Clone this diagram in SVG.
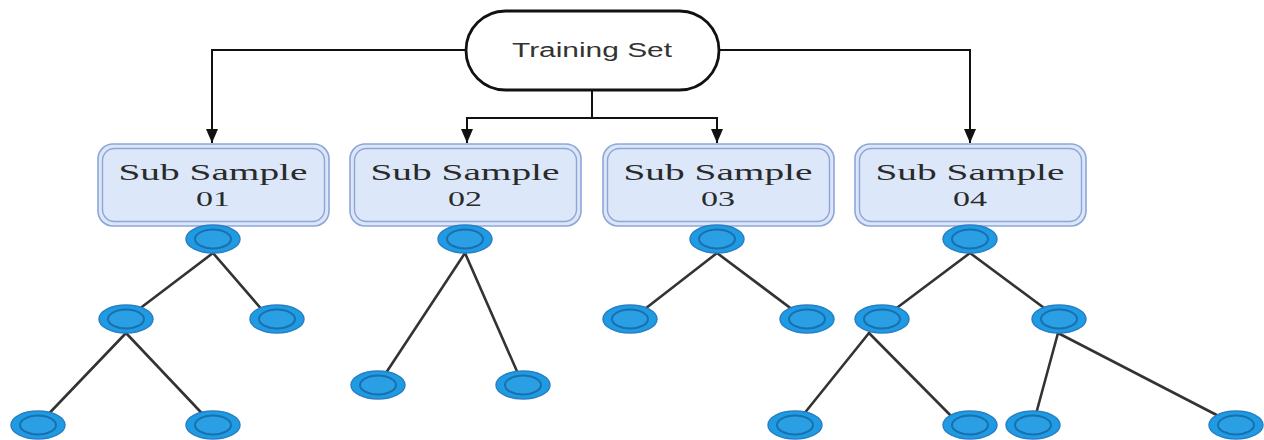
<svg xmlns="http://www.w3.org/2000/svg" width="1264" height="440" viewBox="0 0 1264 440">
  <style>
    .flow { fill: none; stroke: #111; stroke-width: 2; }
    .edge { stroke: #333; stroke-width: 2.6; stroke-linecap: round; }
    .box-outer { fill: #dbe7f8; stroke: #8ea6d6; stroke-width: 1.6; }
    .box-inner { fill: #dce8f9; stroke: #8ea6d6; stroke-width: 1.4; }
    .box-text { font-family: "Liberation Serif", serif; font-size: 24px; fill: #2a2a2a; text-anchor: middle; }
    .box-num { font-family: "Liberation Serif", serif; font-size: 22px; fill: #2a2a2a; text-anchor: middle; }
    .leaf-outer { fill: #1f9be3; stroke: #2a7fc4; stroke-width: 1.5; }
    .leaf-inner { fill: #2a9fe4; stroke: #1a6fae; stroke-width: 2; }
    .root-text { font-family: "Liberation Sans", sans-serif; font-size: 20px; fill: #333; text-anchor: middle; }
  </style>
  <defs>
    <marker id="arrow" viewBox="0 0 14 12" refX="14" refY="6" markerWidth="14" markerHeight="12" markerUnits="userSpaceOnUse" orient="auto">
      <path d="M0,0 L14,6 L0,12 Z" fill="#111"/>
    </marker>
    <g id="leaf">
      <ellipse class="leaf-outer" cx="0" cy="0" rx="27" ry="14"/>
      <ellipse class="leaf-inner" cx="0" cy="0" rx="18" ry="9.5"/>
    </g>
  </defs>
  <rect width="1264" height="440" fill="#fff"/>

  <!-- connectors: training set to sub samples, and tree edges -->
  <g id="connectors">
    <path class="flow" d="M466,50 H212 V143" marker-end="url(#arrow)"/>
    <path class="flow" d="M719,50 H970 V143" marker-end="url(#arrow)"/>
    <path class="flow" d="M592,90 V118 H467 V143" marker-end="url(#arrow)"/>
    <path class="flow" d="M592,118 H717 V143" marker-end="url(#arrow)"/>

    <!-- tree 1 -->
    <line class="edge" x1="213" y1="253" x2="126" y2="319"/>
    <line class="edge" x1="213" y1="253" x2="270" y2="319"/>
    <line class="edge" x1="126" y1="333" x2="38" y2="425"/>
    <line class="edge" x1="126" y1="333" x2="213" y2="425"/>
    <!-- tree 2 -->
    <line class="edge" x1="465" y1="253" x2="378" y2="385"/>
    <line class="edge" x1="465" y1="253" x2="523" y2="385"/>
    <!-- tree 3 -->
    <line class="edge" x1="717" y1="253" x2="632" y2="319"/>
    <line class="edge" x1="717" y1="253" x2="805" y2="319"/>
    <!-- tree 4 -->
    <line class="edge" x1="970" y1="253" x2="882" y2="319"/>
    <line class="edge" x1="970" y1="253" x2="1059" y2="319"/>
    <line class="edge" x1="869" y1="333" x2="795" y2="425"/>
    <line class="edge" x1="869" y1="333" x2="960" y2="425"/>
    <line class="edge" x1="1058" y1="333" x2="1033" y2="425"/>
    <line class="edge" x1="1058" y1="333" x2="1236" y2="425"/>
  </g>

  <g id="training-set">
    <rect x="466" y="11" width="253" height="79" rx="39.5" ry="39.5" fill="#fff" stroke="#111" stroke-width="2.8"/>
    <text class="root-text" x="592" y="57" textLength="160" lengthAdjust="spacingAndGlyphs">Training Set</text>
  </g>

  <g id="sub-sample-01">
    <rect class="box-outer" x="98" y="144" width="231" height="82" rx="15"/>
    <rect class="box-inner" x="102.5" y="148.5" width="222" height="73" rx="12"/>
    <text class="box-text" x="213" y="180" textLength="189" lengthAdjust="spacingAndGlyphs">Sub Sample</text>
    <text class="box-num" x="213" y="206" textLength="34" lengthAdjust="spacingAndGlyphs">01</text>
  </g>
  <g id="sub-sample-02">
    <rect class="box-outer" x="350" y="144" width="231" height="82" rx="15"/>
    <rect class="box-inner" x="354.5" y="148.5" width="222" height="73" rx="12"/>
    <text class="box-text" x="465" y="180" textLength="189" lengthAdjust="spacingAndGlyphs">Sub Sample</text>
    <text class="box-num" x="465" y="206" textLength="34" lengthAdjust="spacingAndGlyphs">02</text>
  </g>
  <g id="sub-sample-03">
    <rect class="box-outer" x="603" y="144" width="231" height="82" rx="15"/>
    <rect class="box-inner" x="607.5" y="148.5" width="222" height="73" rx="12"/>
    <text class="box-text" x="718" y="180" textLength="189" lengthAdjust="spacingAndGlyphs">Sub Sample</text>
    <text class="box-num" x="718" y="206" textLength="34" lengthAdjust="spacingAndGlyphs">03</text>
  </g>
  <g id="sub-sample-04">
    <rect class="box-outer" x="855" y="144" width="231" height="82" rx="15"/>
    <rect class="box-inner" x="859.5" y="148.5" width="222" height="73" rx="12"/>
    <text class="box-text" x="970" y="180" textLength="189" lengthAdjust="spacingAndGlyphs">Sub Sample</text>
    <text class="box-num" x="970" y="206" textLength="34" lengthAdjust="spacingAndGlyphs">04</text>
  </g>

  <!-- tree nodes -->
  <g id="tree-1">
    <use href="#leaf" x="213" y="239"/>
    <use href="#leaf" x="126" y="319"/>
    <use href="#leaf" x="277" y="319"/>
    <use href="#leaf" x="38" y="425"/>
    <use href="#leaf" x="213" y="425"/>
  </g>
  <g id="tree-2">
    <use href="#leaf" x="465" y="239"/>
    <use href="#leaf" x="378" y="385"/>
    <use href="#leaf" x="523" y="385"/>
  </g>
  <g id="tree-3">
    <use href="#leaf" x="717" y="239"/>
    <use href="#leaf" x="630" y="319"/>
    <use href="#leaf" x="807" y="319"/>
  </g>
  <g id="tree-4">
    <use href="#leaf" x="970" y="239"/>
    <use href="#leaf" x="882" y="319"/>
    <use href="#leaf" x="1059" y="319"/>
    <use href="#leaf" x="795" y="425"/>
    <use href="#leaf" x="970" y="425"/>
    <use href="#leaf" x="1033" y="425"/>
    <use href="#leaf" x="1236" y="425"/>
  </g>
</svg>
